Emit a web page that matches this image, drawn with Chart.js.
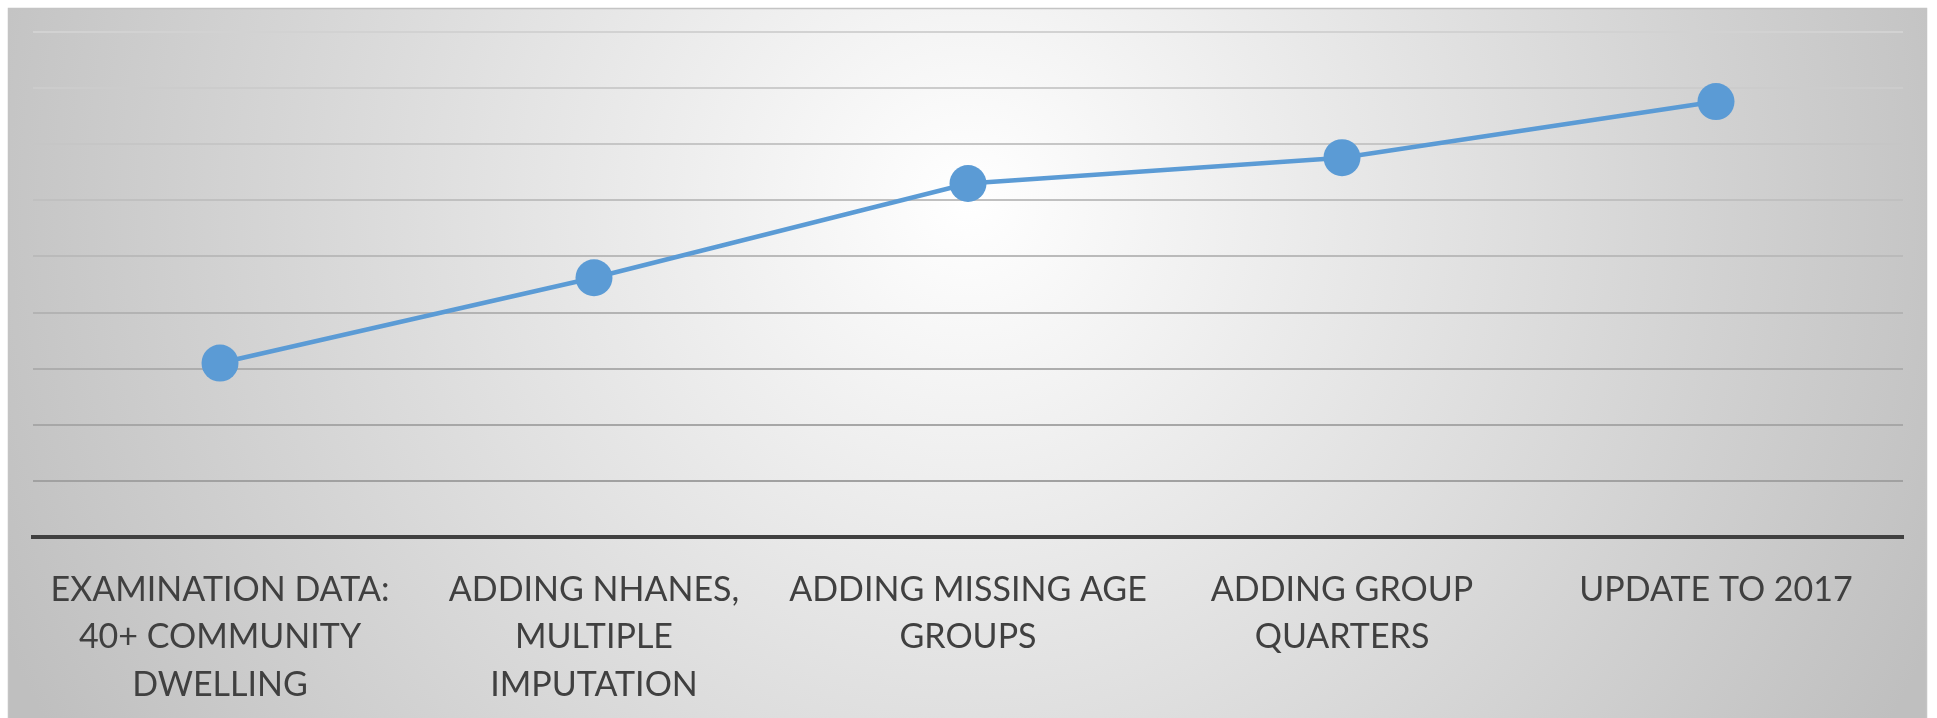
<!DOCTYPE html>
<html>
<head>
<meta charset="utf-8">
<script src="https://cdn.jsdelivr.net/npm/chart.js@4.4.1/dist/chart.umd.min.js"></script>
<style>
    html, body { margin: 0; padding: 0; background: #ffffff; }
    #wrap { width: 1937px; height: 718px; position: relative; }
</style>
</head>
<body>
<div id="wrap"><canvas id="chart"></canvas></div>
<script>
// ===============================
// DATI
// ===============================
const stepLabels = [
    ["EXAMINATION DATA:", "40+ COMMUNITY", "DWELLING"],
    ["ADDING NHANES,", "MULTIPLE", "IMPUTATION"],
    ["ADDING MISSING AGE", "GROUPS"],
    ["ADDING GROUP", "QUARTERS"],
    ["UPDATE TO 2017"]
];
const stepValues = [3.10, 4.62, 6.30, 6.76, 7.76];
const yTicks = [0, 1, 2, 3, 4, 5, 6, 7, 8, 9];

// ===============================
// SFONDO CON GRADIENTE
// ===============================
const panelBackground = {
    id: "panelBackground",
    beforeDraw(chart) {
        const { ctx, width, height } = chart;
        ctx.save();
        ctx.fillStyle = "#ffffff";
        ctx.fillRect(0, 0, width, height);
        const g = ctx.createRadialGradient(968, 200, 0, 968, 200, 1060);
        g.addColorStop(0, "#ffffff");
        g.addColorStop(1, "#bfbfbf");
        ctx.fillStyle = g;
        ctx.fillRect(8, 8, 1919, 710);
        ctx.strokeStyle = "#c4c4c4";
        ctx.lineWidth = 1.5;
        ctx.strokeRect(8.5, 8.5, 1918, 712);
        ctx.restore();
    }
};

const ctx = document.getElementById("chart").getContext("2d");

new Chart(ctx, {
    type: "line",
    data: {
        labels: stepLabels,
        datasets: [{
            data: stepValues,
            borderColor: "#5b9bd5",
            backgroundColor: "#5b9bd5",
            borderWidth: 4.5,
            pointRadius: 18.5,
            pointHoverRadius: 18.5,
            pointBorderWidth: 0,
            pointBackgroundColor: "#5b9bd5",
            tension: 0
        }]
    },
    options: {
        responsive: true,
        maintainAspectRatio: false,
        animation: false,
        layout: { padding: { left: 33, right: 34, top: 32, bottom: 0 } },
        plugins: {
            legend: { display: false },
            tooltip: { enabled: false }
        },
        scales: {
            x: {
                offset: true,
                grid: { display: false, drawTicks: false },
                border: { display: true, color: "#404040", width: 4 },
                ticks: {
                    autoSkip: false,
                    maxRotation: 0,
                    padding: 29,
                    color: "#404040",
                    font: { family: "Lato", size: 34, lineHeight: 1.4 }
                },
                afterFit(scale) { scale.height = 181; }
            },
            y: {
                min: yTicks[0],
                max: yTicks[yTicks.length - 1],
                afterBuildTicks(scale) { scale.ticks = yTicks.map(v => ({ value: v })); },
                grid: {
                    drawTicks: false,
                    lineWidth: 2,
                    color: (c) => {
                        const v = c.tick ? c.tick.value : 0;
                        const k = Math.round(155 + (v / 9) * 55);
                        return `rgb(${k},${k},${k})`;
                    }
                },
                border: { display: false },
                ticks: { display: false },
                afterFit(scale) { scale.width = 0; }
            }
        }
    },
    plugins: [panelBackground]
});
</script>
</body>
</html>
